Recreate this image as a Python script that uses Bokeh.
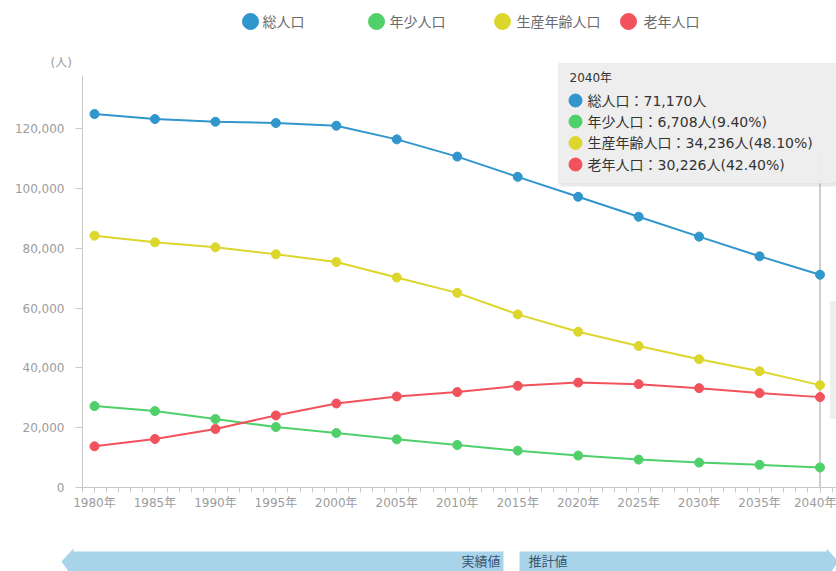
from bokeh.plotting import figure
from bokeh.models import (Range1d, FixedTicker, NumeralTickFormatter, BoxAnnotation,
                          Label, PolyAnnotation)
from bokeh.embed import file_html
from bokeh.resources import INLINE
from bokeh.core.properties import value

# ---------------- data ----------------
years = [1980, 1985, 1990, 1995, 2000, 2005, 2010, 2015, 2020, 2025, 2030, 2035, 2040]
year_labels = ["1980年", "1985年", "1990年", "1995年", "2000年", "2005年", "2010年",
               "2015年", "2020年", "2025年", "2030年", "2035年", "2040年"]
series_names = ["総人口", "年少人口", "生産年齢人口", "老年人口"]
total = [124900, 123230, 122330, 121900, 121000, 116430, 110670, 103900, 97230, 90560, 83900, 77330, 71170]
youth = [27230, 25570, 22900, 20230, 18230, 16100, 14230, 12330, 10670, 9330, 8330, 7570, 6708]
working = [84230, 82000, 80330, 78000, 75430, 70230, 65100, 57900, 52100, 47330, 42900, 38900, 34236]
elderly = [13770, 16230, 19570, 24100, 28100, 30430, 31900, 34000, 35100, 34570, 33230, 31570, 30226]
y_ticks = [0, 20000, 40000, 60000, 80000, 100000, 120000]
tooltip_pcts = ["", "(9.40%)", "(48.10%)", "(42.40%)"]
tooltip_year = "2040年"
unit_label = "(人)"
band_labels = ["実績値", "推計値"]

colors = ["#3096cc", "#4fd06b", "#ddd62c", "#f2525c"]
FONT = "DejaVu Sans, Noto Sans CJK JP"
W, H = 836, 571

# ---------------- pixel helpers (canvas px -> data) ----------------
PX_YEAR = 12.092     # px per year
PX_UNIT = 2.99 / 1000  # px per person


def xd(px):
    return 1980 + (px - 94) / PX_YEAR


def yd(py):
    return (487 - py) / PX_UNIT


p = figure(width=W, height=H, x_range=Range1d(xd(0), xd(W)), y_range=Range1d(yd(H), yd(0)),
           output_backend="svg", toolbar_location=None, min_border=0,
           min_border_left=0, min_border_right=0, min_border_top=0, min_border_bottom=0)
p.outline_line_color = None
p.grid.visible = False
p.background_fill_color = "white"
p.border_fill_color = "white"

# ---------------- axes (fixed inside the frame) ----------------
xa = p.xaxis[0]
xa.fixed_location = 0
xa.bounds = (xd(82), xd(W))
xa.ticker = FixedTicker(ticks=years, minor_ticks=list(range(1979, 2042)))
xa.major_label_overrides = {y: l for y, l in zip(years, year_labels)}
xa.axis_line_color = "#c8c8c8"
xa.major_tick_line_color = "#c8c8c8"
xa.minor_tick_line_color = "#c8c8c8"
xa.major_tick_in = 0
xa.major_tick_out = 5
xa.minor_tick_in = 0
xa.minor_tick_out = 5
xa.major_label_standoff = 3
xa.major_label_text_color = "#9c9c9c"
xa.major_label_text_font = FONT
xa.major_label_text_font_size = "12px"

ya = p.yaxis[0]
ya.fixed_location = xd(82)
ya.bounds = (0, yd(75))
ya.ticker = FixedTicker(ticks=y_ticks, minor_ticks=[])
ya.formatter = NumeralTickFormatter(format="0,0")
ya.axis_line_color = "#c8c8c8"
ya.major_tick_line_color = "#c8c8c8"
ya.major_tick_in = 0
ya.major_tick_out = 7
ya.minor_tick_line_color = None
ya.major_label_standoff = 11
ya.major_label_text_color = "#9c9c9c"
ya.major_label_text_font = FONT
ya.major_label_text_font_size = "12px"

# ---------------- legend (top) ----------------
leg_cx = [250, 376, 502, 628]
leg_tx = [262, 389, 516, 643]
p.scatter(x=[xd(v) for v in leg_cx], y=[yd(21)] * 4, size=16, fill_color=colors, line_color=colors)
p.text(x=[xd(v) for v in leg_tx], y=[yd(21)] * 4, text=series_names, text_baseline="middle",
       text_align="left", text_font=value(FONT), text_font_size="14px", text_color="#6a6a6a")

# unit label
p.add_layout(Label(x=xd(50), y=yd(62), text=unit_label, text_baseline="middle",
                   text_font=FONT, text_font_size="12px", text_color="#9c9c9c"))

# ---------------- crosshair + tooltip box ----------------
p.segment(x0=[years[-1]], y0=[0], x1=[years[-1]], y1=[yd(150)], line_color="#cfcfcf",
          line_width=2, level="underlay")
p.add_layout(BoxAnnotation(left=xd(560), right=xd(W + 10), top=yd(66), bottom=yd(186),
                           fill_color="#9a9a9a", fill_alpha=0.22, line_color=None,
                           level="underlay"))
p.add_layout(BoxAnnotation(left=xd(558), right=xd(W + 10), top=yd(63), bottom=yd(183),
                           fill_color="#ededed", fill_alpha=0.97, line_color="#d6d6d6",
                           line_width=1, level="underlay"))
# partially visible side panel at the right edge
p.add_layout(BoxAnnotation(left=xd(830), right=xd(W + 10), top=yd(301), bottom=yd(418),
                           fill_color="#eeeeee", fill_alpha=1, line_color="#e0e0e0",
                           line_width=1, level="underlay"))

# ---------------- series ----------------
for vals, c in zip([total, youth, working, elderly], colors):
    p.line(years, vals, line_color=c, line_width=2)
    p.scatter(years, vals, size=9, fill_color=c, line_color=c)

# ---------------- tooltip contents ----------------
row_y = [100, 121, 142.5, 164]
last_vals = [total[-1], youth[-1], working[-1], elderly[-1]]
p.scatter(x=[xd(575)] * 4, y=[yd(r) for r in row_y], size=13, fill_color=colors, line_color=colors)
p.add_layout(Label(x=xd(569), y=yd(77), text=tooltip_year, text_baseline="middle",
                   text_font=FONT, text_font_size="12px", text_color="#333333"))
for name, v, pct, r in zip(series_names, last_vals, tooltip_pcts, row_y):
    p.add_layout(Label(x=xd(587), y=yd(r), text=f"{name}：{v:,}人{pct}", text_baseline="middle",
                       text_font=FONT, text_font_size="14px", text_color="#333333"))

# ---------------- bottom bands (実績値 / 推計値) ----------------
top_b, bot_b, mid_b = 551, 575, 561
p.add_layout(PolyAnnotation(xs=[xd(61), xd(73), xd(73), xd(503), xd(503), xd(73), xd(73)],
                            ys=[yd(mid_b), yd(top_b - 3), yd(top_b), yd(top_b), yd(bot_b), yd(bot_b), yd(bot_b + 3)],
                            fill_color="#a8d4ea", fill_alpha=1, line_color=None))
p.add_layout(PolyAnnotation(xs=[xd(519), xd(826), xd(826), xd(838), xd(826), xd(826), xd(519)],
                            ys=[yd(top_b), yd(top_b), yd(top_b - 3), yd(mid_b), yd(bot_b + 3), yd(bot_b), yd(bot_b)],
                            fill_color="#a8d4ea", fill_alpha=1, line_color=None))
p.add_layout(Label(x=xd(500), y=yd(mid_b), text=band_labels[0], text_align="right",
                   text_baseline="middle", text_font=FONT, text_font_size="13px",
                   text_color="#3a5470"))
p.add_layout(Label(x=xd(528), y=yd(mid_b), text=band_labels[1], text_align="left",
                   text_baseline="middle", text_font=FONT, text_font_size="13px",
                   text_color="#3a5470"))

open("out.html", "w").write(file_html(p, INLINE))
